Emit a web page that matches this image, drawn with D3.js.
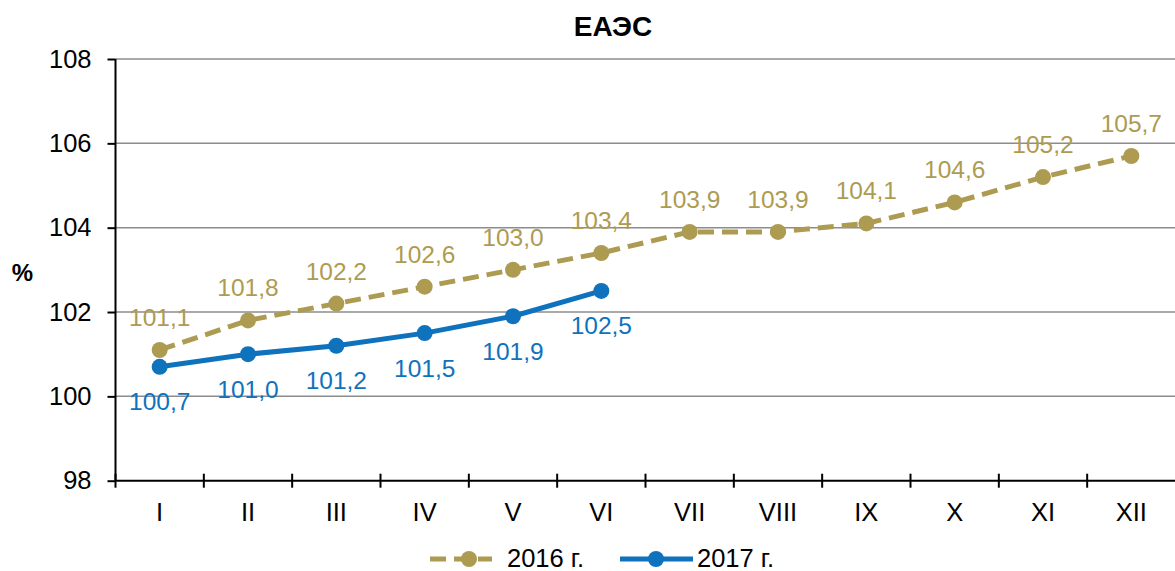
<!DOCTYPE html>
<html>
<head>
<meta charset="utf-8">
<script src="https://cdn.jsdelivr.net/npm/d3@7"></script>
<style>
body { margin: 0; background: #fff; }
text { font-family: "Liberation Sans", Arial, sans-serif; }
</style>
</head>
<body>
<div id="vis"></div>
<script>
var width = 1175;
var height = 571;

var months = ['I', 'II', 'III', 'IV', 'V', 'VI', 'VII', 'VIII', 'IX', 'X', 'XI', 'XII'];
var values2016 = [101.1, 101.8, 102.2, 102.6, 103.0, 103.4, 103.9, 103.9, 104.1, 104.6, 105.2, 105.7];
var values2017 = [100.7, 101.0, 101.2, 101.5, 101.9, 102.5];
var yTicks = [98, 100, 102, 104, 106, 108];

var gold = '#ae9b52';
var blue = '#0f72bd';

var margin = { top: 59, bottom: 91, left: 115.5, right: 0 };

var svg = d3.select('#vis')
    .append('svg')
    .attr('width', width)
    .attr('height', height);

var x_scale = d3.scaleBand()
    .domain(months)
    .range([margin.left, width - margin.right + 0.5]);

var y_scale = d3.scaleLinear()
    .domain([98, 108])
    .range([height - margin.bottom + 0.7, margin.top]);

var fmt = function(v) { return v.toFixed(1).replace('.', ','); };
var cx = function(i) { return x_scale(months[i]) + x_scale.bandwidth() / 2; };

// grid lines
svg.append('g')
    .selectAll('line')
    .data(yTicks.slice(1))
    .enter()
    .append('line')
    .attr('x1', margin.left)
    .attr('x2', width)
    .attr('y1', function(d) { return y_scale(d); })
    .attr('y2', function(d) { return y_scale(d); })
    .attr('stroke', '#8c8c8c')
    .attr('stroke-width', 1.5);

// y axis
var y_axis = d3.axisLeft(y_scale)
    .tickValues(yTicks)
    .tickSize(8)
    .tickPadding(16)
    .tickFormat(d3.format('d'));

svg.append('g')
    .attr('transform', 'translate(' + margin.left + ',0)')
    .call(y_axis)
    .call(function(g) {
        g.selectAll('path, line').attr('stroke', '#000').attr('stroke-width', 2);
        g.select('.domain').attr('d', 'M0,' + y_scale(108) + 'V' + y_scale(98));
        g.selectAll('text').attr('font-size', 25.5).attr('fill', '#000')
            .attr('font-family', '"Liberation Sans", Arial, sans-serif');
    });

// x axis
var x_bottom = y_scale(98);
svg.append('line')
    .attr('x1', margin.left).attr('x2', width)
    .attr('y1', x_bottom).attr('y2', x_bottom)
    .attr('stroke', '#000').attr('stroke-width', 2);

svg.append('g')
    .selectAll('line')
    .data(months)
    .enter()
    .append('line')
    .attr('x1', function(d) { return x_scale(d); })
    .attr('x2', function(d) { return x_scale(d); })
    .attr('y1', x_bottom - 7)
    .attr('y2', x_bottom + 7)
    .attr('stroke', '#000').attr('stroke-width', 2);

svg.append('g')
    .selectAll('text')
    .data(months)
    .enter()
    .append('text')
    .attr('x', function(d) { return x_scale(d) + x_scale.bandwidth() / 2; })
    .attr('y', x_bottom + 40.5)
    .attr('text-anchor', 'middle')
    .attr('font-size', 25.5)
    .text(function(d) { return d; });

// title and y label
svg.append('text')
    .attr('x', 613)
    .attr('y', 36)
    .attr('text-anchor', 'middle')
    .attr('font-size', 28)
    .attr('font-weight', 'bold')
    .text('ЕАЭС');

svg.append('text')
    .attr('x', 22.5)
    .attr('y', 281)
    .attr('text-anchor', 'middle')
    .attr('font-size', 24)
    .attr('font-weight', 'bold')
    .text('%');

var line = d3.line()
    .x(function(d, i) { return cx(i); })
    .y(function(d) { return y_scale(d); });

// 2016 series
svg.append('path')
    .datum(values2016)
    .attr('d', line)
    .attr('fill', 'none')
    .attr('stroke', gold)
    .attr('stroke-width', 5)
    .attr('stroke-dasharray', '16,8');

svg.append('g')
    .selectAll('circle')
    .data(values2016)
    .enter()
    .append('circle')
    .attr('cx', function(d, i) { return cx(i); })
    .attr('cy', function(d) { return y_scale(d); })
    .attr('r', 8)
    .attr('fill', gold);

svg.append('g')
    .selectAll('text')
    .data(values2016)
    .enter()
    .append('text')
    .attr('x', function(d, i) { return cx(i); })
    .attr('y', function(d) { return y_scale(d) - 24; })
    .attr('text-anchor', 'middle')
    .attr('font-size', 24.5)
    .attr('fill', gold)
    .text(fmt);

// 2017 series
svg.append('path')
    .datum(values2017)
    .attr('d', line)
    .attr('fill', 'none')
    .attr('stroke', blue)
    .attr('stroke-width', 5);

svg.append('g')
    .selectAll('circle')
    .data(values2017)
    .enter()
    .append('circle')
    .attr('cx', function(d, i) { return cx(i); })
    .attr('cy', function(d) { return y_scale(d); })
    .attr('r', 8)
    .attr('fill', blue);

svg.append('g')
    .selectAll('text')
    .data(values2017)
    .enter()
    .append('text')
    .attr('x', function(d, i) { return cx(i); })
    .attr('y', function(d) { return y_scale(d) + 43.5; })
    .attr('text-anchor', 'middle')
    .attr('font-size', 24.5)
    .attr('fill', blue)
    .text(fmt);

// legend
var legend = svg.append('g');
legend.append('line')
    .attr('x1', 430).attr('x2', 492).attr('y1', 559).attr('y2', 559)
    .attr('stroke', gold).attr('stroke-width', 5).attr('stroke-dasharray', '16,8');
legend.append('circle').attr('cx', 469).attr('cy', 559).attr('r', 8).attr('fill', gold);
legend.append('text').attr('x', 507).attr('y', 567).attr('font-size', 25.5).text('2016 г.');

legend.append('line')
    .attr('x1', 620).attr('x2', 693).attr('y1', 559).attr('y2', 559)
    .attr('stroke', blue).attr('stroke-width', 5);
legend.append('circle').attr('cx', 656).attr('cy', 559).attr('r', 8).attr('fill', blue);
legend.append('text').attr('x', 697).attr('y', 567).attr('font-size', 25.5).text('2017 г.');
</script>
</body>
</html>
